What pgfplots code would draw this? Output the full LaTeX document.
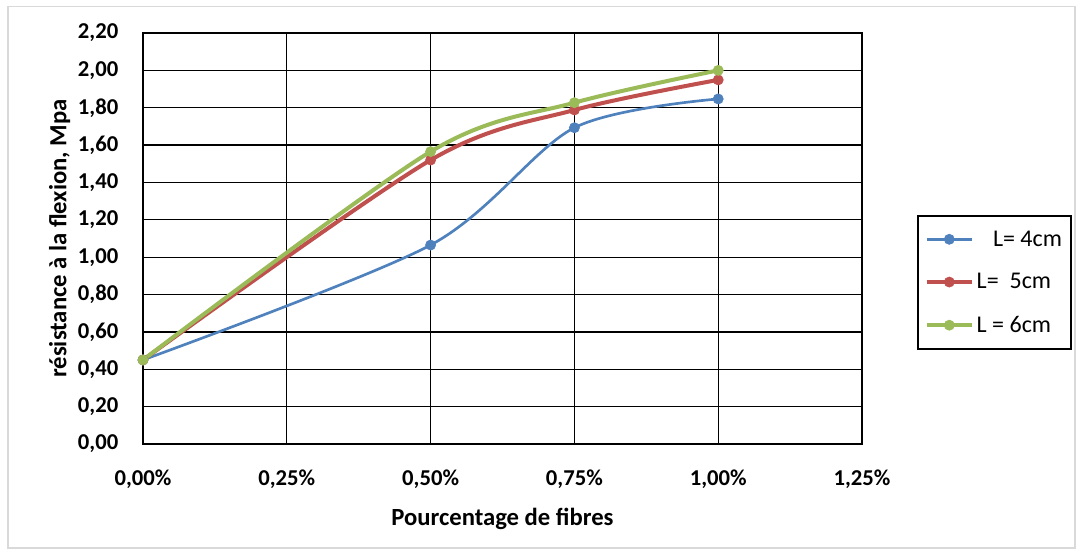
\documentclass[border=0pt]{standalone}
\usepackage{fontspec}
\setmainfont{Carlito}
\usepackage{pgfplots}
\pgfplotsset{compat=1.18}
\definecolor{xlblue}{RGB}{79,129,189}
\definecolor{xlred}{RGB}{192,80,77}
\definecolor{xlgreen}{RGB}{155,187,89}
\begin{document}
\begin{tikzpicture}
% page frame (1080x553 px at 0.75pt/px)
\path[use as bounding box] (-107.25pt,-81.75pt) rectangle (702.75pt,333pt);
\draw[black!15, line width=0.8pt] (-101.25pt,-78pt) rectangle (699pt,328pt);
\begin{axis}[
  at={(0pt,0pt)}, anchor=south west,
  scale only axis,
  width=539.25pt, height=308.25pt,
  xmin=0, xmax=1.25,
  ymin=0, ymax=2.2,
  xtick={0,0.25,0.5,0.75,1,1.25},
  xticklabels={{0,00\%},{0,25\%},{0,50\%},{0,75\%},{1,00\%},{1,25\%}},
  ytick={0,0.2,...,2.21},
  yticklabel style={/pgf/number format/fixed, /pgf/number format/fixed zerofill,
    /pgf/number format/precision=2, /pgf/number format/use comma,
    /pgf/number format/assume math mode=true, xshift=-15pt},
  tick label style={font=\fontsize{17}{19}\selectfont\bfseries},
  xticklabel style={yshift=-16pt},
  major tick length=0pt,
  xmajorgrids, ymajorgrids,
  grid style={black, line width=1pt},
  axis line style={black, line width=1.5pt},
  xlabel={Pourcentage de fibres},
  ylabel={résistance à la flexion, Mpa},
  label style={font=\fontsize{18.5}{20}\selectfont\bfseries},
  xlabel style={yshift=-8pt},
  ylabel style={yshift=-1pt},
  legend cell align=left,
  legend style={at={(1.0765,0.557)}, anchor=north west,
    draw=black, line width=1.3pt,
    font=\fontsize{18}{20}\selectfont,
    inner xsep=5pt, inner ysep=9pt,
    row sep=15pt},
  legend image code/.code={\draw[mark repeat=2, mark phase=2] plot coordinates {(0cm,0cm)(0.6cm,0cm)(1.2cm,0cm)};},
]
\addplot[color=xlblue, line width=2pt, smooth, mark=*, mark size=3.8pt, mark options={solid, line width=0.5pt}]
coordinates{
(0.00, 0.45)
(0.50, 1.065)
(0.75, 1.693)
(1.00, 1.847)
};
\addlegendentry{~~~L= 4cm}
\addplot[color=xlred, line width=3pt, smooth, mark=*, mark size=3.8pt, mark options={solid, line width=0.5pt}]
coordinates{
(0.00, 0.45)
(0.50, 1.52)
(0.75, 1.788)
(1.00, 1.949)
};
\addlegendentry{L=~~5cm}
\addplot[color=xlgreen, line width=3pt, smooth, mark=*, mark size=3.8pt, mark options={solid, line width=0.5pt}]
coordinates{
(0.00, 0.45)
(0.50, 1.565)
(0.75, 1.827)
(1.00, 2.00)
};
\addlegendentry{L = 6cm}
\end{axis}
\end{tikzpicture}
\end{document}
